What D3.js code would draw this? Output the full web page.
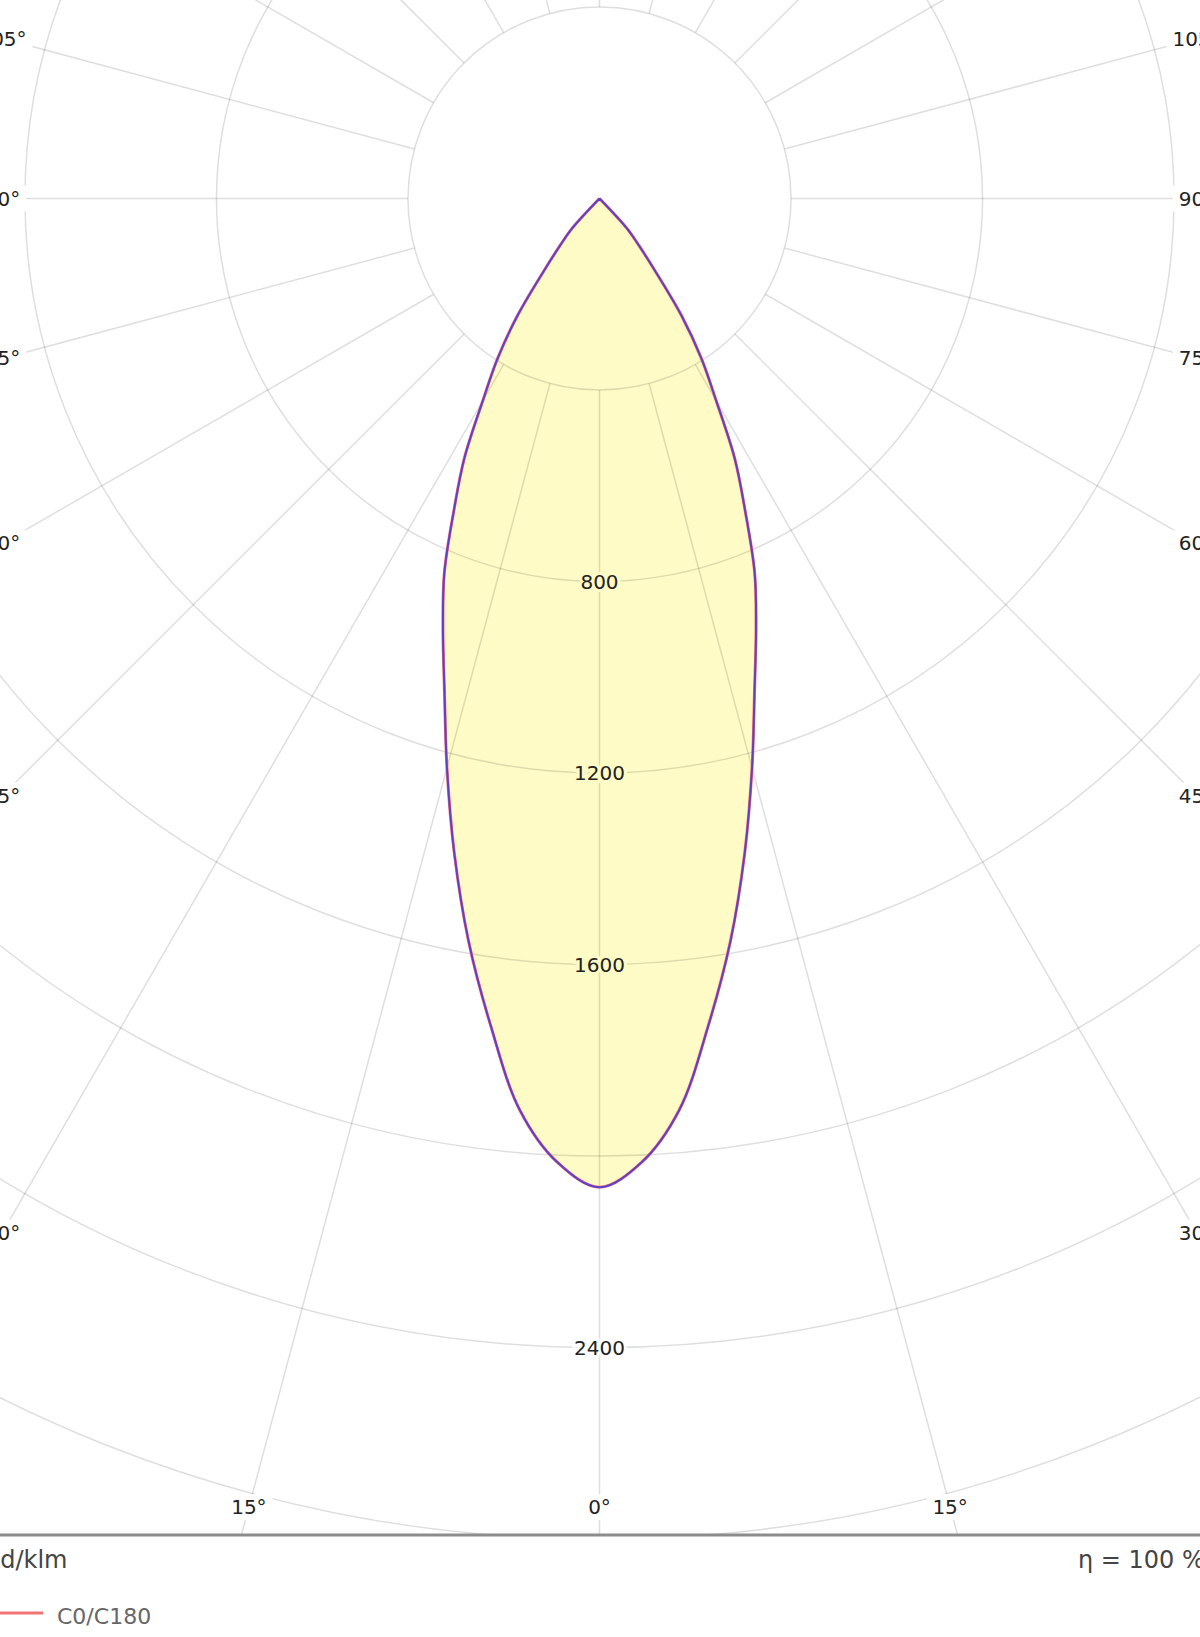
<!DOCTYPE html>
<html>
<head>
<meta charset="utf-8">
<script src="https://cdn.jsdelivr.net/npm/d3@7"></script>
<style>
  html, body { margin: 0; padding: 0; background: #ffffff; }
  svg { display: block; }
  text { font-family: "DejaVu Sans", Verdana, sans-serif; }
</style>
</head>
<body>
<div id="chart"></div>
<script>
// ---- data ----
const gammaDeg = [0, 2.5, 5, 7.5, 10, 12.5, 15, 17.5, 20, 22.5, 25, 27.5, 30, 32.5, 35, 37.5, 40, 42.5, 45];
const intensityC0C180 = [2065, 2015, 1911, 1742, 1575, 1401, 1231, 1077, 956, 847, 720, 611, 487, 396, 299, 192, 128, 86, 0];
const intensityC90C270 = [2065, 2015, 1911, 1742, 1575, 1401, 1231, 1077, 956, 847, 720, 611, 487, 396, 299, 192, 128, 86, 0];
const ringValues = [400, 800, 1200, 1600, 2000, 2400, 2800];
const ringLabelValues = [800, 1200, 1600, 2400];
const angleTickValues = [0, 15, 30, 45, 60, 75, 90, 105];
const rayStepDeg = 15;
const unitLabel = "cd/klm";
const efficiencyLabel = "η = 100 %";
const legendLabels = ["C0/C180"];

// ---- layout ----
const W = 1200, H = 1637;
const cx = 599.5, cy = 198.5;
const plotBottom = 1535;
const r = d3.scaleLinear().domain([0, 2800]).range([0, 1340.6]);
const rad = d => d * Math.PI / 180;

const svg = d3.select("#chart").append("svg").attr("width", W).attr("height", H);
svg.append("rect").attr("width", W).attr("height", H).attr("fill", "#fff");

svg.append("defs").append("clipPath").attr("id", "plotclip")
  .append("rect").attr("x", 0).attr("y", -3000).attr("width", W).attr("height", plotBottom + 3000);

const plot = svg.append("g").attr("clip-path", "url(#plotclip)");
const g = plot.append("g").attr("transform", `translate(${cx},${cy})`);

// build polar points: left side (C180 half) then right side (C0 half); 0 deg points down
function curvePoints(vals) {
  const pts = [];
  for (let i = gammaDeg.length - 1; i >= 0; i--) pts.push({ a: Math.PI + rad(gammaDeg[i]), v: vals[i] });
  for (let i = 1; i < gammaDeg.length; i++) pts.push({ a: Math.PI - rad(gammaDeg[i]), v: vals[i] });
  return pts;
}
const radial = d3.lineRadial().angle(d => d.a).radius(d => r(d.v)).curve(d3.curveCatmullRom.alpha(0.5));

// fill
g.append("path").attr("d", radial(curvePoints(intensityC0C180)) + "Z")
  .attr("fill", "#fffbc6").attr("stroke", "none");

// grid rings
g.selectAll("circle.ring").data(ringValues).join("circle")
  .attr("class", "ring").attr("r", d => r(d))
  .attr("fill", "none").attr("stroke", "rgba(0,0,0,0.13)").attr("stroke-width", 1.5);

// grid rays
const rays = d3.range(0, 360, rayStepDeg);
g.selectAll("line.ray").data(rays).join("line")
  .attr("class", "ray")
  .attr("x1", d => r(400) * Math.sin(rad(d)))
  .attr("y1", d => r(400) * Math.cos(rad(d)))
  .attr("x2", d => r(8000) * Math.sin(rad(d)))
  .attr("y2", d => r(8000) * Math.cos(rad(d)))
  .attr("stroke", "rgba(0,0,0,0.13)").attr("stroke-width", 1.5);

// curves
g.append("path").attr("d", radial(curvePoints(intensityC0C180)))
  .attr("fill", "none").attr("stroke", "#f07474").attr("stroke-width", 3).attr("stroke-linejoin", "round");
g.append("path").attr("d", radial(curvePoints(intensityC90C270)))
  .attr("fill", "none").attr("stroke", "#2f2fe6").attr("stroke-opacity", 0.75).attr("stroke-width", 2).attr("stroke-linejoin", "round");

// ring value labels (on the 0 deg axis)
const maxI = d3.max(intensityC0C180);
g.selectAll("text.rlab").data(ringLabelValues).join("text")
  .attr("class", "rlab")
  .attr("x", 0).attr("y", d => r(d))
  .attr("text-anchor", "middle").attr("dominant-baseline", "central")
  .attr("font-size", 20).attr("fill", "#222")
  .attr("stroke", d => d < maxI ? "#fffbc6" : "#ffffff").attr("stroke-width", 6)
  .attr("paint-order", "stroke")
  .text(d => d);

// angle labels on the border of the visible plot
const labelInsetX = 597, labelBottomY = 1507;
const angLabels = [];
angleTickValues.forEach(a => {
  const sides = a === 0 ? [1] : [-1, 1];
  sides.forEach(s => {
    const dx = s * Math.sin(rad(a)), dy = Math.cos(rad(a));
    let t = Infinity;
    if (Math.abs(dx) > 1e-9) t = Math.min(t, labelInsetX / Math.abs(dx));
    if (dy > 1e-9) t = Math.min(t, (labelBottomY - cy) / dy);
    angLabels.push({ a, x: cx + t * dx, y: cy + t * dy });
  });
});
const al = svg.append("g");
const alG = al.selectAll("g").data(angLabels).join("g")
  .attr("transform", d => `translate(${d.x},${d.y})`);
const alT = alG.append("text")
  .attr("text-anchor", "middle").attr("dominant-baseline", "central")
  .attr("font-size", 20).attr("fill", "#222")
  .text(d => d.a + "°");
alG.each(function () {
  const t = d3.select(this).select("text");
  const bb = t.node().getBBox();
  d3.select(this).insert("rect", "text")
    .attr("x", bb.x - 6).attr("y", bb.y - 1)
    .attr("width", bb.width + 12).attr("height", bb.height + 2)
    .attr("fill", "#fff");
});

// bottom separator line
svg.append("line").attr("x1", 0).attr("x2", W).attr("y1", plotBottom).attr("y2", plotBottom)
  .attr("stroke", "#8c8c8c").attr("stroke-width", 3);

// footer texts
svg.append("text").attr("x", -13).attr("y", 1568).attr("font-size", 24).attr("fill", "#444").text(unitLabel);
svg.append("text").attr("x", 1078).attr("y", 1568).attr("font-size", 24).attr("fill", "#444").text(efficiencyLabel);

// legend
const lg = svg.append("g").selectAll("g").data(legendLabels).join("g");
lg.append("line").attr("x1", -10).attr("x2", 43).attr("y1", 1613).attr("y2", 1613)
  .attr("stroke", "#f07474").attr("stroke-width", 3);
lg.append("text").attr("x", 57).attr("y", 1624).attr("font-size", 22).attr("fill", "#666").text(d => d);
</script>
</body>
</html>
